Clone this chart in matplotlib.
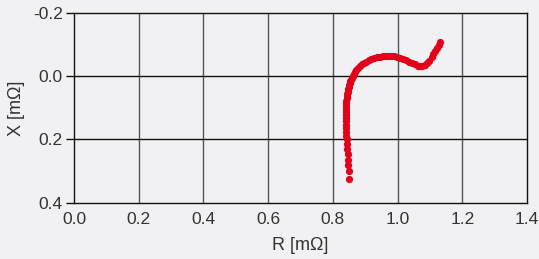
import matplotlib
matplotlib.use("Agg")
import matplotlib.pyplot as plt

plt.rcParams["font.family"] = ["Liberation Sans", "DejaVu Sans"]
plt.rcParams["axes.unicode_minus"] = False

# 阻抗数据 (mΩ)
r_vals = [0.850, 0.849, 0.848, 0.847, 0.846, 0.845, 0.844, 0.843, 0.842, 0.842,
          0.841, 0.841, 0.840, 0.840, 0.840, 0.841, 0.841, 0.841, 0.842, 0.842,
          0.843, 0.844, 0.845, 0.846, 0.847, 0.849, 0.850, 0.852, 0.854, 0.856,
          0.858, 0.861, 0.864, 0.868, 0.872, 0.877, 0.883, 0.889, 0.896, 0.903,
          0.911, 0.919, 0.927, 0.936, 0.945, 0.954, 0.963, 0.972, 0.981, 0.990,
          0.999, 1.008, 1.017, 1.026, 1.035, 1.044, 1.053, 1.062, 1.070, 1.077,
          1.084, 1.091, 1.098, 1.105, 1.111, 1.117, 1.123, 1.128, 1.132]
x_vals = [0.324, 0.300, 0.282, 0.264, 0.247, 0.229, 0.213, 0.200, 0.188, 0.176,
          0.165, 0.154, 0.143, 0.133, 0.123, 0.113, 0.104, 0.095, 0.086, 0.078,
          0.070, 0.062, 0.055, 0.048, 0.041, 0.034, 0.028, 0.022, 0.016, 0.010,
          0.004, -0.002, -0.008, -0.014, -0.020, -0.026, -0.032, -0.038, -0.043, -0.047,
          -0.051, -0.054, -0.057, -0.060, -0.062, -0.064, -0.065, -0.065, -0.065, -0.064,
          -0.062, -0.059, -0.055, -0.051, -0.046, -0.042, -0.038, -0.034, -0.032, -0.032,
          -0.035, -0.041, -0.050, -0.060, -0.070, -0.080, -0.090, -0.099, -0.108]

x_ticks = [0.0, 0.2, 0.4, 0.6, 0.8, 1.0, 1.2, 1.4]
y_ticks = [-0.2, 0.0, 0.2, 0.4]

bg = "#f1f1f3"
fig = plt.figure(figsize=(5.39, 2.59), dpi=100, facecolor=bg)
ax = fig.add_axes([0.1373, 0.2181, 0.8404, 0.7305], facecolor=bg)

ax.plot(r_vals, x_vals, "o", color="#e3001b", markersize=5.2, markeredgewidth=0)

ax.set_xlim(0, 1.4)
ax.set_ylim(0.4, -0.2)
ax.set_xticks(x_ticks)
ax.set_yticks(y_ticks)
ax.set_xticklabels(["%.1f" % v for v in x_ticks])
ax.set_yticklabels(["%.1f" % v for v in y_ticks])

for v in x_ticks[1:-1]:
    ax.axvline(v, color="#555555", lw=1.0, zorder=0)
for v in y_ticks[1:-1]:
    ax.axhline(v, color="#111111", lw=1.0, zorder=0)

for s in ax.spines.values():
    s.set_color("#111111")
    s.set_linewidth(1.0)

ax.tick_params(axis="y", length=6, width=1, colors="#111111", labelcolor="#333333",
               labelsize=12.5, pad=2)
ax.tick_params(axis="x", length=0, labelcolor="#333333", labelsize=12.5, pad=7)

ax.set_xlabel("R [mΩ]", fontsize=13, color="#333333", va="center")
ax.set_ylabel("X [mΩ]", fontsize=13, color="#333333", va="center")
ax.xaxis.set_label_coords(0.5, -0.225)
ax.yaxis.set_label_coords(-0.128, 0.5)

fig.savefig("out.png", dpi=100, facecolor=bg)
